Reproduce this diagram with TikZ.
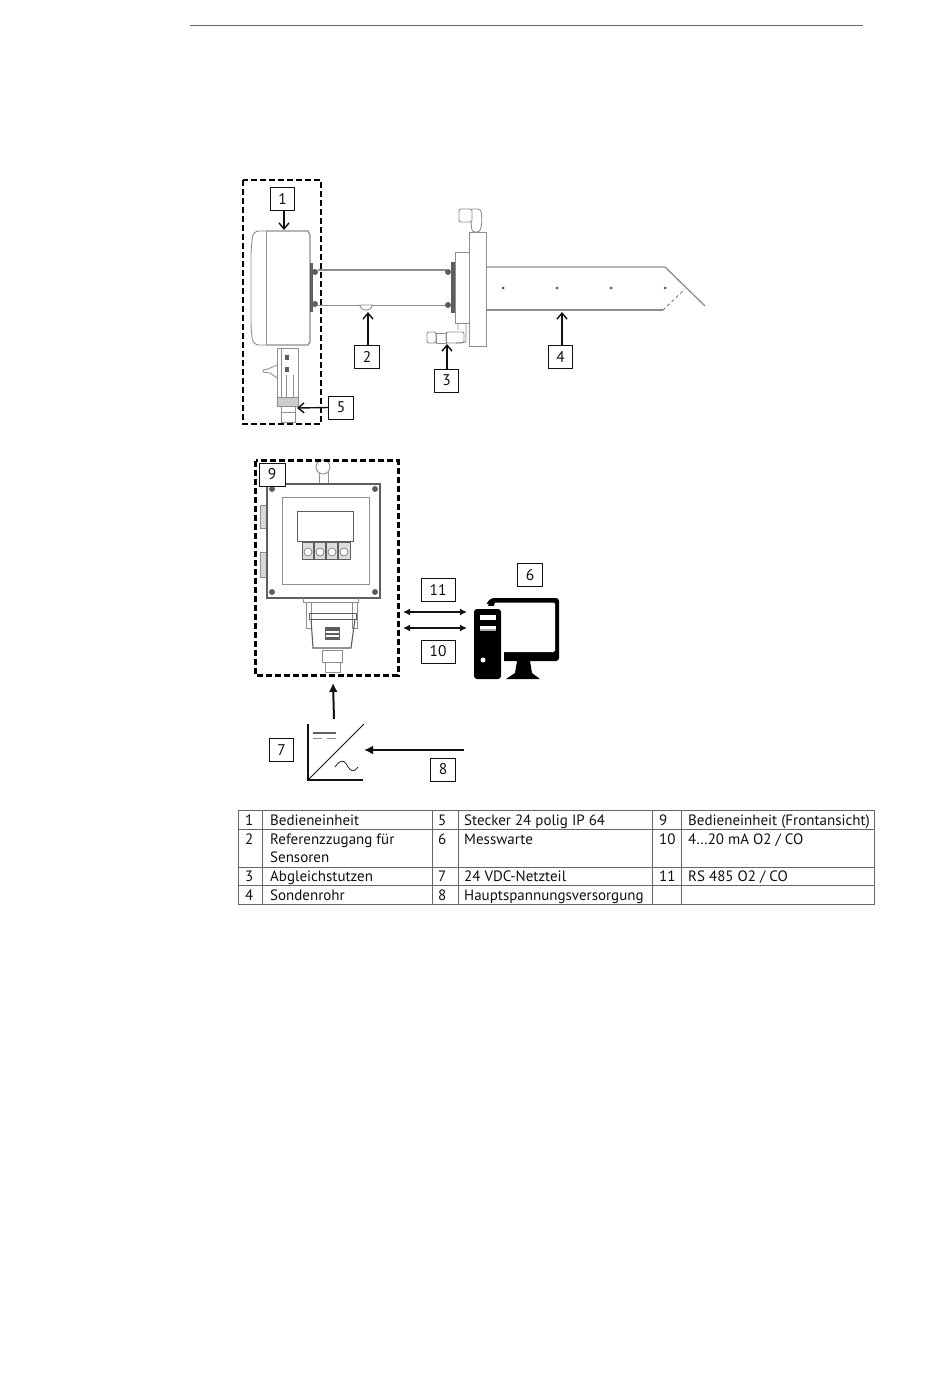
\documentclass[tikz,border=0pt]{standalone}
\usepackage{fontspec}
\setmainfont{PT Sans}
\usepackage{xcolor}
\usetikzlibrary{shapes,arrows.meta,positioning,fit,calc}
\definecolor{ink}{HTML}{111111}
\definecolor{sketch}{HTML}{8E8E8E}
\definecolor{sketchdark}{HTML}{5E5E5E}
\definecolor{rule}{HTML}{666666}
\newcommand{\screwdot}[2]{%
    % #1=x, #2=y
    \fill[sketchdark] (#1,#2) circle (3);
}
\newcommand{\probedot}[1]{%
    % #1=x
    \fill[sketchdark] (#1,288) circle (1.5);
}
\begin{document}
\begin{tikzpicture}[x=1pt, y=-1pt,
    callout/.style={rectangle, draw=ink, fill=white, line width=1pt, minimum width=24.5pt, minimum height=23pt, inner sep=0pt, font=\fontsize{15.5}{15.5}\selectfont, text=ink},
    widebox/.style={callout, minimum width=34pt},
    pointer/.style={draw=ink, line width=1.4pt, -{Straight Barb[length=6pt,width=10pt]}},
    heavyarrow/.style={draw=ink, line width=2pt, -{Latex[length=9pt,width=9pt]}},
    twoway/.style={draw=ink, line width=1.7pt, {Latex[length=7pt,width=7pt]}-{Latex[length=7pt,width=7pt]}},
    groupbox/.style={draw=black, line width=2.7pt, dash pattern=on 6pt off 3pt},
    part/.style={draw=sketch, line width=0.9pt},
    heavypart/.style={draw=sketch, line width=1.3pt},
    cell/.style={anchor=base west, inner sep=0pt, font=\fontsize{15}{15}\selectfont, text=ink},
    grid/.style={draw=rule, line width=0.8pt}
]
    \useasboundingbox (0,0) rectangle (950,1397);
    \fill[white] (0,0) rectangle (950,1397);

    % Page rule
    \draw[draw=rule, line width=0.9pt] (190,25) -- (863,25);

    % Housing
    \draw[part, rounded corners=6pt] (266,231) -- (253,231) -- (251,250) -- (251,328) -- (253,345) -- (266,345);
    \draw[heavypart] (266,231) -- (308,231) -- (310,235) -- (310,342) -- (308,345) -- (266,345);
    \draw[part] (266,231) -- (266,345);
    \fill[sketchdark] (310,263) rectangle (313,312);
    \screwdot{315}{272}
    \screwdot{315}{304}

    % Tube
    \draw[heavypart] (318,270) -- (446,270);
    \draw[part] (318,305) -- (446,305);
    \draw[part, fill=white] (360,305) .. controls (360,312) and (372,312) .. (372,305) -- cycle;

    % Flange
    \fill[sketchdark] (451,262) rectangle (455,313);
    \screwdot{448}{272}
    \screwdot{448}{305}
    \draw[part] (455,252) rectangle (469,323);
    \draw[part] (469,232) rectangle (486,346);
    \draw[part, rounded corners=2pt] (459,209) rectangle (472,222);
    \draw[part, rounded corners=3pt] (472,209) -- (481,209) -- (482,222) -- (480,232) -- (472,232) -- (471,222);
    \draw[part] (458,323) -- (458,330) (466,323) -- (466,342) -- (456,343);

    % Valve
    \draw[part, rounded corners=2pt] (427,332) rectangle (436,343);
    \draw[part] (436,333) rectangle (446,343);
    \draw[part, rounded corners=2pt] (446,332) rectangle (464,343);

    % Probe
    \draw[heavypart] (487,267) -- (665,267) -- (705,306);
    \draw[heavypart] (487,310) -- (663,310);
    \draw[draw=sketchdark, line width=0.7pt, dashed] (663,310) -- (685,289);
    \probedot{503}
    \probedot{557}
    \probedot{611}
    \probedot{665}

    % Connector below housing
    \draw[part] (277,348) rectangle (298,397);
    \draw[part] (281,348) -- (281,397) (293,375) -- (293,397) (286,375) -- (286,397);
    \draw[part] (277,365) -- (268,369) -- (263,370) -- (263,372) -- (270,373) -- (277,378);
    \fill[sketchdark] (285,355) rectangle (289,360);
    \fill[sketchdark] (285,367) rectangle (289,372);
    \draw[part, fill=sketch!45] (277,397) rectangle (298,406);
    \draw[part] (281,406) rectangle (295,422);
    \draw[part] (281,412) -- (295,412);

    % Front view
    \draw[part, fill=sketch!35] (260,505) rectangle (267,528);
    \draw[part, fill=sketch!35] (260,552) rectangle (267,577);
    \draw[part] (319,470) rectangle (328,483);
    \draw[part, fill=white] (323,467) circle (7);
    \draw[draw=sketchdark, line width=1.4pt] (267,484) rectangle (380,598);
    \draw[part] (282,497) rectangle (369,584);
    \draw[draw=sketchdark, line width=1pt] (297,511) rectangle (353,541);
    \draw[draw=sketchdark, line width=1pt, fill=sketch!30] (302,542) rectangle (350,559);
    \draw[draw=sketchdark, line width=1.4pt] (314,542) -- (314,559) (326,542) -- (326,559) (338,542) -- (338,559);
    \draw[part, fill=white] (308,552) circle (4);
    \draw[part, fill=white] (320,552) circle (4);
    \draw[part, fill=white] (332,552) circle (4);
    \draw[part, fill=white] (344,552) circle (4);
    \screwdot{272}{489}
    \screwdot{375}{489}
    \screwdot{272}{592}
    \screwdot{375}{592}

    % Mount below front view
    \draw[part] (303,598) -- (303,602) -- (358,602) -- (358,598);
    \draw[part] (306,602) rectangle (311,628);
    \draw[part] (352,602) rectangle (357,628);
    \draw[draw=sketchdark, line width=1pt] (309,613) rectangle (356,619);
    \draw[draw=sketchdark, line width=1.1pt] (311,619) -- (313,648) -- (351,648) -- (355,619);
    \fill[sketchdark] (325,627) rectangle (340,640);
    \fill[white] (326,631) rectangle (339,632.5);
    \fill[white] (326,635) rectangle (339,636.5);
    \draw[part] (322,650) rectangle (342,662);
    \draw[part] (325,662) rectangle (340,672);

    % Group frames
    \draw[groupbox] (243,180) rectangle (321,424);
    \node[draw=none, inner sep=0pt, minimum width=142pt, minimum height=214pt] (front) at (327,568) {};
    \draw[groupbox] (front.north west) rectangle (front.south east);

    % Computer
    \fill[black, rounded corners=3pt] (486,608) -- (486,604) -- (491,598) -- (559,598) -- (559,661) -- (486,661) -- cycle;
    \fill[white, rounded corners=1.5pt] (491,602.5) rectangle (555,652);
    \fill[white] (486,604) -- (489,604) -- (491,603) -- (491,611) -- (486,611) -- cycle;
    \fill[black, rounded corners=2pt] (488,604) -- (491,600) -- (495,600) -- (495,604) -- (492,609) -- (488,609) -- cycle;
    \fill[white] (471,606) rectangle (504,682);
    \fill[black, rounded corners=3pt] (474,609) rectangle (501,679);
    \fill[white] (480,615) rectangle (496,620);
    \fill[white] (480,626) rectangle (496,629);
    \fill[gray!70] (480,629) rectangle (496,631);
    \fill[white] (483,660) circle (2.5);
    \fill[black] (517,661) -- (530,661) -- (532,673) -- (540,679) -- (506,679) -- (515,673) -- cycle;

    % Converter
    \draw[draw=ink, line width=1.2pt] (308,724) -- (308,780) -- (363,780);
    \draw[draw=ink, line width=0.9pt] (308,780) -- (364,724);
    \draw[draw=sketchdark, line width=1.5pt] (313,733) -- (336,733);
    \draw[draw=sketch, line width=0.8pt] (313,738) -- (322,738) (327,738) -- (336,738);
    \draw[draw=ink, line width=0.7pt] (335,767) .. controls (340,760) and (343,759) .. (347,765) .. controls (351,772) and (353,773) .. (358,767);

    % Callouts
    \node[callout] (one) at (282.5,199) {1};
    \node[callout] (two) at (367,356.5) {2};
    \node[callout] (three) at (446.5,380.5) {3};
    \node[callout] (four) at (560.5,356.5) {4};
    \node[callout] (five) at (341,407.5) {5};
    \node[callout] (six) at (530,575) {6};
    \node[callout] (seven) at (281.5,750) {7};
    \node[callout] (eight) at (443,769.5) {8};
    \node[callout, minimum width=26pt] (nine) at (272,474.5) {9};
    \node[widebox] (ten) at (438,651.5) {10};
    \node[widebox] (eleven) at (438,590) {11};

    % Arrow ends
    \coordinate (oneend) at (284,230);
    \coordinate (twoend) at (368,312);
    \coordinate (threeend) at (447,344);
    \coordinate (fourend) at (562,312);
    \coordinate (fiveend) at (297,408);
    \coordinate (powerstart) at (334,719);
    \coordinate (powerend) at (333,683);
    \coordinate (mainsstart) at (464,750);
    \coordinate (mainsend) at (364,750);
    \coordinate (rsleft) at (403,612);
    \coordinate (rsright) at (467,612);
    \coordinate (maleft) at (403,628);
    \coordinate (maright) at (467,628);

    % Connections
    \draw[pointer] (one.south -| oneend) -- (oneend);
    \draw[pointer] (two.north -| twoend) -- (twoend);
    \draw[pointer] (three.north -| threeend) -- (threeend);
    \draw[pointer] (four.north -| fourend) -- (fourend);
    \draw[pointer] (five.west) -- (fiveend);
    \draw[heavyarrow] (powerstart) -- (powerend);
    \draw[heavyarrow] (mainsstart) -- (mainsend);
    \draw[twoway] (rsleft) -- (rsright);
    \draw[twoway] (maleft) -- (maright);

    % Table grid
    \draw[grid] (238,810) rectangle (874,904);
    \draw[grid] (238,829) -- (874,829);
    \draw[grid] (238,867) -- (874,867);
    \draw[grid] (238,885) -- (874,885);
    \foreach \colx in {262,432,458,652,681}
        \draw[grid] (\colx,810) -- (\colx,904);

    % Table, first column
    \node[cell] (nA) at (245,825) {1};
    \node[cell] (tA) at (270,825) {Bedieneinheit};
    \node[cell] (nB) at (245,844) {2};
    \node[cell] (tB) at (270,844) {Referenzzugang für};
    \node[cell] (tBb) at (270,862) {Sensoren};
    \node[cell] (nC) at (245,881) {3};
    \node[cell] (tC) at (270,881) {Abgleichstutzen};
    \node[cell] (nD) at (245,900) {4};
    \node[cell] (tD) at (270,900) {Sondenrohr};

    % Table, second column
    \node[cell] (nE) at (438,825) {5};
    \node[cell] (tE) at (464,825) {Stecker 24 polig IP 64};
    \node[cell] (nF) at (438,844) {6};
    \node[cell] (tF) at (464,844) {Messwarte};
    \node[cell] (nG) at (438,881) {7};
    \node[cell] (tG) at (464,881) {24 VDC-Netzteil};
    \node[cell] (nH) at (438,900) {8};
    \node[cell] (tH) at (464,900) {Hauptspannungsversorgung};

    % Table, third column
    \node[cell] (nI) at (659,825) {9};
    \node[cell] (tI) at (688,825) {Bedieneinheit (Frontansicht)};
    \node[cell] (nJ) at (659,844) {10};
    \node[cell] (tJ) at (688,844) {4…20 mA O2 / CO};
    \node[cell] (nK) at (659,881) {11};
    \node[cell] (tK) at (688,881) {RS 485 O2 / CO};
\end{tikzpicture}
\end{document}
